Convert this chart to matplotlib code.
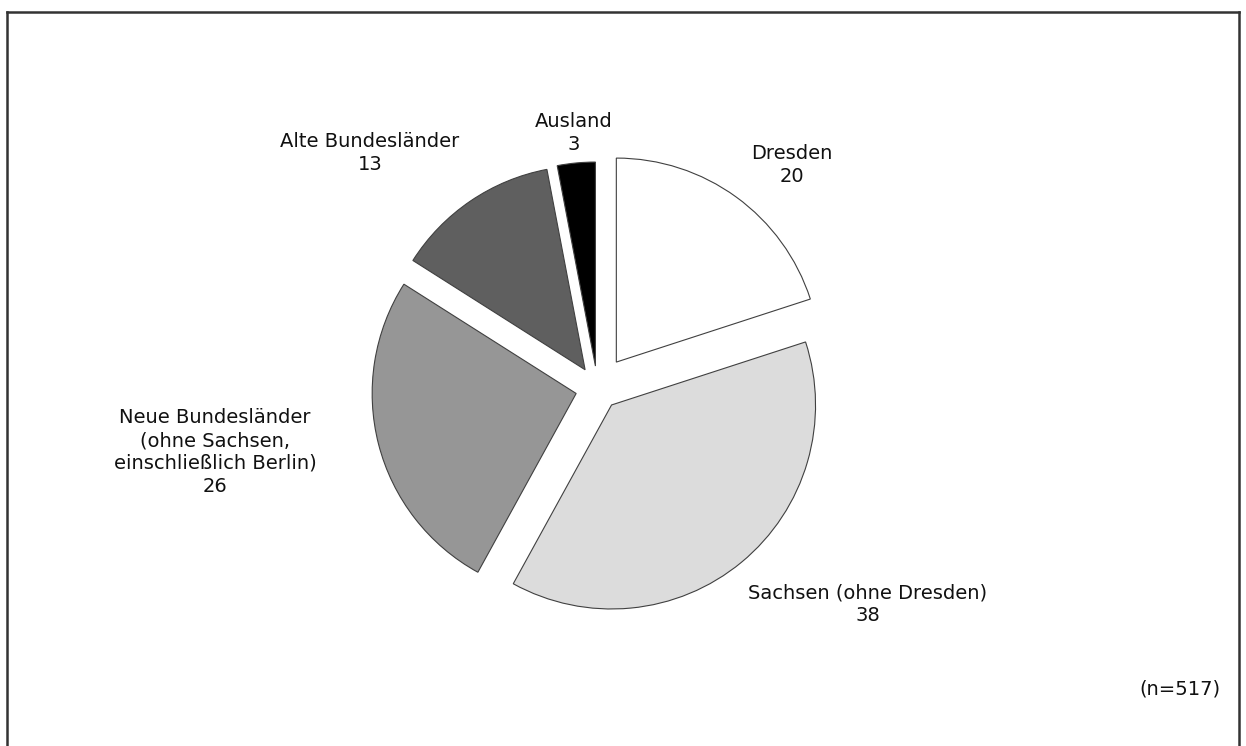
import matplotlib.pyplot as plt
from matplotlib.lines import Line2D

# Herkunft der Befragten (Anteile in %)
categories = ["Dresden", "Sachsen (ohne Dresden)",
              "Neue Bundesländer\n(ohne Sachsen,\neinschließlich Berlin)",
              "Alte Bundesländer", "Ausland"]
values = [20, 38, 26, 13, 3]
n_total = 517

colors = ["#ffffff", "#dcdcdc", "#969696", "#5f5f5f", "#000000"]
explode_frac = [0.157, 0.108, 0.108, 0.108, 0.108]
# label centres in pixel coordinates (y measured from top)
label_pos = [(792, 165), (868, 604), (215, 452), (370, 153), (574, 133)]

W, H = 1246, 746
fig = plt.figure(figsize=(W / 100, H / 100), dpi=100)
ax = fig.add_axes([0, 0, 1, 1])

cx, cy, r = 597.5, H - 388, 204
# pie's explode offset is in data units, so scale by the radius
ax.pie(values, colors=colors, explode=[e * r for e in explode_frac],
       startangle=90, counterclock=False, center=(cx, cy), radius=r,
       wedgeprops=dict(edgecolor="#404040", linewidth=0.8))

for cat, val, (x, y) in zip(categories, values, label_pos):
    ax.text(x, H - y, f"{cat}\n{val}", ha="center", va="center",
            fontsize=14, color="#111111", linespacing=1.25)

ax.text(1180, H - 689, f"(n={n_total})", ha="center", va="center",
        fontsize=14, color="#111111")

ax.set_xlim(0, W)
ax.set_ylim(0, H)
ax.set_aspect("equal")
ax.axis("off")

# frame around the chart (open at the bottom)
frame_kw = dict(color="#333333", linewidth=1.8, transform=fig.transFigure)
fig.add_artist(Line2D([7 / W, 7 / W], [0, 1 - 12 / H], **frame_kw))
fig.add_artist(Line2D([7 / W, 1239 / W], [1 - 12 / H, 1 - 12 / H], **frame_kw))
fig.add_artist(Line2D([1239 / W, 1239 / W], [0, 1 - 12 / H], **frame_kw))

fig.savefig("out.png", dpi=100)
